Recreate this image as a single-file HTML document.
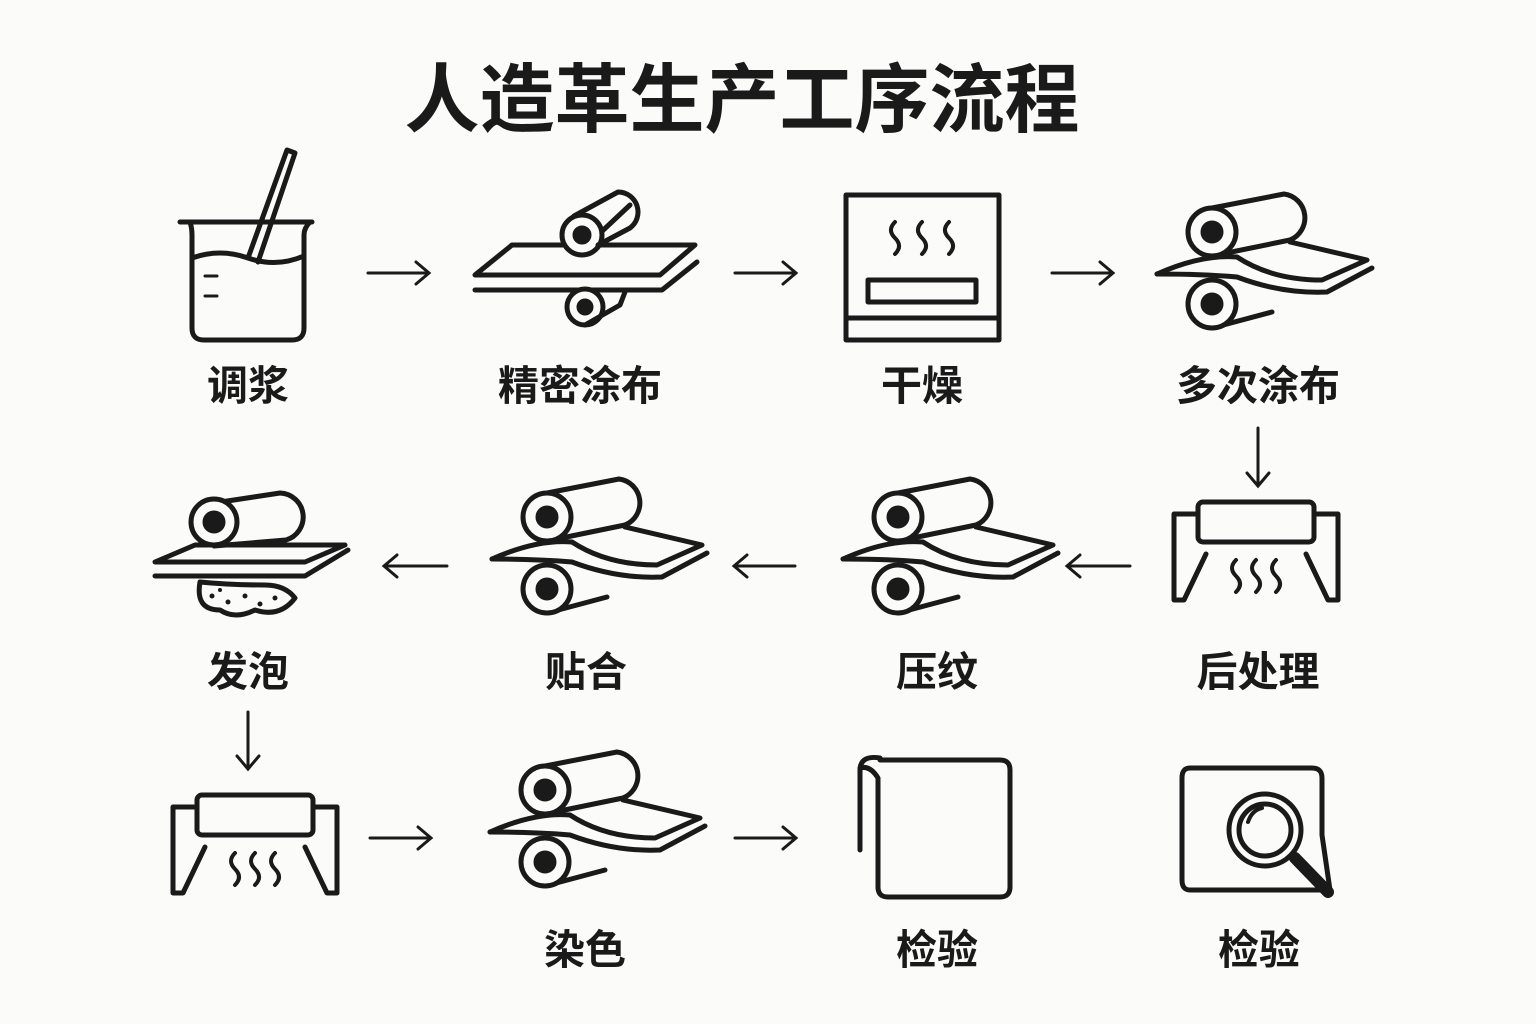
<!DOCTYPE html>
<html><head><meta charset="utf-8"><style>
body{margin:0;background:#fbfbf9;}
svg{display:block}
text{font-family:"Liberation Sans","Noto Sans CJK SC",sans-serif;font-weight:bold;fill:#1a1a1a;text-anchor:middle}
</style></head><body>
<svg width="1536" height="1024" viewBox="0 0 1536 1024" xmlns="http://www.w3.org/2000/svg">
<defs>
<g id="roll" fill="none" stroke="#1a1a1a" stroke-width="5" stroke-linejoin="round" stroke-linecap="round">
 <path d="M0,-24 L72,-38 A24,24 0 0 1 78,8 L0,24"/>
 <circle cx="0" cy="0" r="24" fill="#fbfbf9"/><circle cx="0" cy="0" r="9" fill="#1a1a1a"/>
 <path d="M-55,42 Q-10,22 25,25 Q60,48 110,48 L155,28 L78,10"/>
 <path d="M-55,42 Q-10,42 25,45 Q70,62 115,60 L160,36"/>
 <path d="M0,96 L60,80"/>
 <circle cx="0" cy="72" r="24" fill="#fbfbf9"/><circle cx="0" cy="72" r="9" fill="#1a1a1a"/>
</g>
<g id="post" fill="none" stroke="#1a1a1a" stroke-width="5" stroke-linejoin="round" stroke-linecap="round">
 <rect x="-58" y="-30" width="116" height="40" rx="5"/>
 <path d="M-58,-18 H-82 V68 H-72 L-50,22 M58,-18 H82 V68 H72 L50,22"/>
 <path d="M-20,28 q-8,8 0,16 q8,8 0,16 M0,28 q-8,8 0,16 q8,8 0,16 M20,28 q-8,8 0,16 q8,8 0,16" stroke-width="4"/>
</g>
</defs>
<text x="742" y="126" font-size="75">人造革生产工序流程</text>

<g fill="none" stroke="#1a1a1a" stroke-width="5" stroke-linecap="round" stroke-linejoin="round">
 <path d="M180,222 H312 M190,222 Q192,228 192,235 V328 Q192,340 204,340 H292 Q304,340 304,328 V235 Q304,228 310,222"/>
 <path d="M192,258 Q220,248 248,258 Q276,268 304,256"/>
 <path d="M205,276 h12 M205,296 h12" stroke-width="3"/>
 <path d="M248,258 L287,150 L295,153 L258,262"/>
 <path d="M475,275 L512,245 H695 L660,275 Z"/>
 <path d="M475,290 H662 L697,262"/>
 <path d="M582,250 L630,205" />
 <circle cx="582" cy="235" r="20" fill="#fbfbf9"/><circle cx="582" cy="235" r="7" fill="#1a1a1a"/>
 <path d="M574,216 L618,192 A20,20 0 0 1 630,228 L598,245"/>
 <circle cx="585" cy="307" r="18" fill="#fbfbf9"/><circle cx="585" cy="307" r="6" fill="#1a1a1a"/>
 <path d="M585,325 L620,305 L625,292"/>
 <rect x="846" y="195" width="153" height="145"/>
 <path d="M846,318 H999"/>
 <rect x="868" y="280" width="108" height="22"/>
 <path d="M895,222 q-8,8 0,16 q8,8 0,16 M922,222 q-8,8 0,16 q8,8 0,16 M949,222 q-8,8 0,16 q8,8 0,16" stroke-width="4"/>
 <path d="M200,582 Q195,610 220,610 Q235,620 255,610 Q280,618 295,598 Q285,585 265,585 Q230,585 200,582 Z"/>
</g>
<g fill="#1a1a1a"><circle cx="212" cy="596" r="2.5"/><circle cx="228" cy="602" r="2.5"/><circle cx="245" cy="596" r="2.5"/><circle cx="260" cy="604" r="2.5"/><circle cx="275" cy="598" r="2.5"/><circle cx="220" cy="590" r="2"/></g>

<use href="#roll" x="1212" y="232"/>
<use href="#roll" x="898" y="517"/>
<use href="#roll" x="547" y="517"/>
<use href="#roll" x="545" y="790"/>
<g fill="none" stroke="#1a1a1a" stroke-width="5" stroke-linejoin="round" stroke-linecap="round">
 <path d="M214,503 L280,493 A24,24 0 0 1 286,540 L214,546"/>
 <path d="M155,562 L195,545 H345 L305,562 Z"/>
 <path d="M155,576 H305 L348,550"/>
 <circle cx="214" cy="522" r="23" fill="#fbfbf9"/><circle cx="214" cy="522" r="9" fill="#1a1a1a"/>
 <path d="M880,760 H1000 Q1010,760 1010,770 V887 Q1010,897 1000,897 H888 Q878,897 878,887 V778 Q870,765 860,768 V850 M860,768 Q862,755 880,758"/>
 <path d="M1190,768 H1312 Q1322,768 1322,778 V835 L1330,890 H1190 Q1182,890 1182,880 V778 Q1182,768 1190,768 Z"/>
 <path d="M1295,858 L1328,892" stroke-width="12"/>
 <circle cx="1265" cy="830" r="36" fill="#fbfbf9"/>
 <circle cx="1265" cy="830" r="26"/>
 <path d="M1248,822 Q1252,810 1262,808" stroke-width="4"/>
</g>
<use href="#post" x="1256" y="532"/>
<use href="#post" x="255" y="825"/>

<g stroke="#1a1a1a" stroke-width="3" fill="none" stroke-linecap="round">
 <path d="M368,273 H428 M416,262 L429,273 L416,284"/>
 <path d="M735,273 H795 M783,262 L796,273 L783,284"/>
 <path d="M1052,273 H1112 M1100,262 L1113,273 L1100,284"/>
 <path d="M1258,428 V485 M1247,473 L1258,486 L1269,473"/>
 <path d="M1130,566 H1068 M1080,555 L1067,566 L1080,577"/>
 <path d="M795,566 H735 M747,555 L734,566 L747,577"/>
 <path d="M447,566 H385 M397,555 L384,566 L397,577"/>
 <path d="M248,712 V768 M237,756 L248,769 L259,756"/>
 <path d="M370,838 H430 M418,827 L431,838 L418,849"/>
 <path d="M735,838 H795 M783,827 L796,838 L783,849"/>
</g>

<g font-size="41">
<text x="248" y="400">调浆</text>
<text x="580" y="400">精密涂布</text>
<text x="922" y="400">干燥</text>
<text x="1258" y="400">多次涂布</text>
<text x="248" y="686">发泡</text>
<text x="586" y="686">贴合</text>
<text x="937" y="686">压纹</text>
<text x="1258" y="686">后处理</text>
<text x="585" y="964">染色</text>
<text x="937" y="964">检验</text>
<text x="1259" y="964">检验</text>
</g>
</svg>
</body></html>
